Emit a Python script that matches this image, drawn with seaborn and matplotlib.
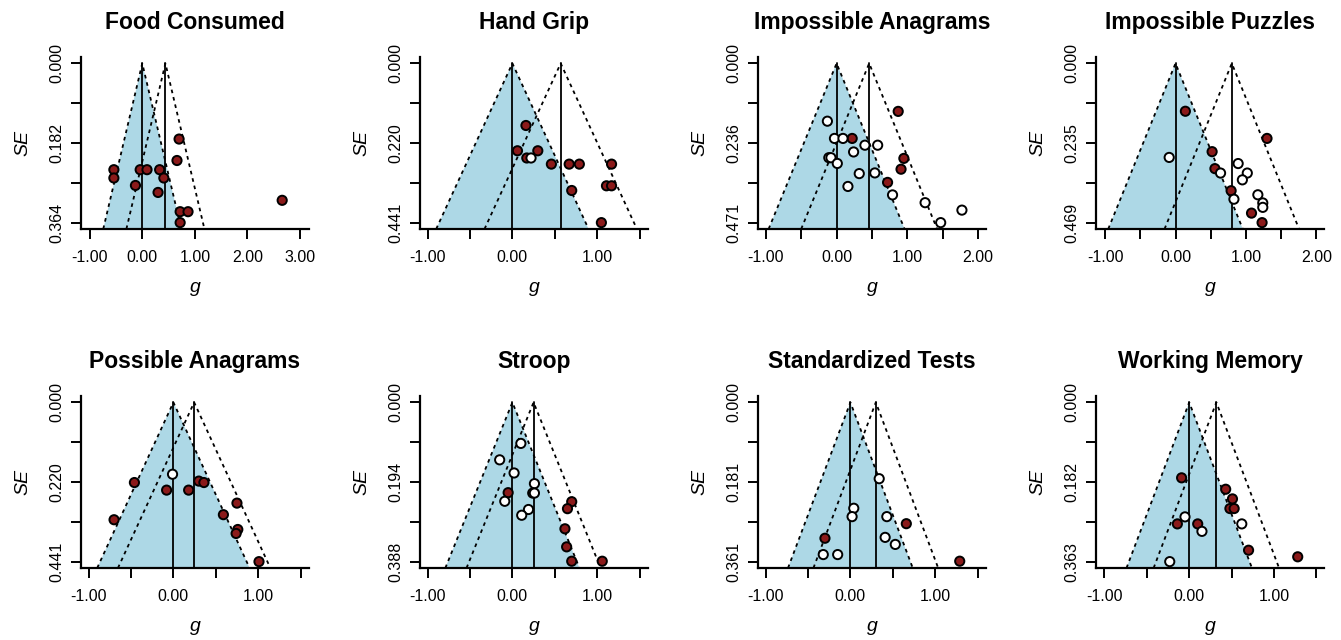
import numpy as np
import pandas as pd
import matplotlib
matplotlib.use("Agg")
import matplotlib.pyplot as plt
import seaborn as sns

# ---------------- data ----------------
titles = ["Food Consumed", "Hand Grip", "Impossible Anagrams", "Impossible Puzzles",
          "Possible Anagrams", "Stroop", "Standardized Tests", "Working Memory"]

food_obs_g = [0.70, 0.66, -0.54, -0.54, -0.04, 0.09, 0.33, 0.41, -0.13, 0.30, 2.66, 0.72, 0.87, 0.72]
food_obs_se = [0.173, 0.222, 0.243, 0.262, 0.243, 0.243, 0.243, 0.262, 0.279, 0.295, 0.313, 0.339, 0.339, 0.364]
food_fill_g = []
food_fill_se = []

grip_obs_g = [0.16, 0.06, 0.30, 0.17, 0.46, 0.67, 0.79, 1.17, 1.11, 1.17, 0.70, 1.05]
grip_obs_se = [0.172, 0.242, 0.242, 0.262, 0.279, 0.279, 0.279, 0.279, 0.339, 0.339, 0.352, 0.441]
grip_fill_g = [0.22]
grip_fill_se = [0.262]

ianag_obs_g = [0.87, 0.22, 0.95, 0.91, 0.72]
ianag_obs_se = [0.142, 0.222, 0.281, 0.313, 0.352]
ianag_fill_g = [-0.13, -0.03, 0.09, 0.40, 0.58, 0.24, -0.11, -0.08, 0.01, 0.32, 0.54, 0.16, 0.79, 1.25, 1.77, 1.47]
ianag_fill_se = [0.171, 0.222, 0.222, 0.242, 0.242, 0.262, 0.279, 0.279, 0.296, 0.326, 0.324, 0.364, 0.389, 0.412, 0.434, 0.471]

ipuzz_obs_g = [0.14, 1.30, 0.52, 0.56, 0.79, 1.08, 1.23]
ipuzz_obs_se = [0.141, 0.221, 0.260, 0.310, 0.375, 0.441, 0.469]
ipuzz_fill_g = [-0.09, 0.89, 0.64, 1.02, 0.95, 1.17, 0.83, 1.24, 1.24]
ipuzz_fill_se = [0.277, 0.295, 0.323, 0.323, 0.343, 0.387, 0.400, 0.411, 0.424]

panag_obs_g = [-0.46, -0.08, 0.18, 0.30, 0.36, 0.75, 0.59, -0.70, 0.76, 0.74, 1.01]
panag_obs_se = [0.222, 0.243, 0.243, 0.218, 0.222, 0.279, 0.311, 0.325, 0.352, 0.363, 0.441]
panag_fill_g = [-0.01]
panag_fill_se = [0.199]

stroop_obs_g = [-0.05, 0.70, 0.65, 0.62, 0.64, 0.70, 1.06]
stroop_obs_se = [0.220, 0.242, 0.259, 0.308, 0.352, 0.387, 0.387]
stroop_fill_g = [0.10, -0.15, 0.02, 0.26, 0.24, 0.26, -0.09, 0.19, 0.11]
stroop_fill_se = [0.100, 0.140, 0.172, 0.198, 0.221, 0.221, 0.241, 0.261, 0.275]

stest_obs_g = [0.66, -0.30, 1.29]
stest_obs_se = [0.275, 0.308, 0.360]
stest_fill_g = [0.34, 0.04, 0.02, 0.43, 0.41, 0.53, -0.32, -0.15]
stest_fill_se = [0.173, 0.240, 0.259, 0.259, 0.306, 0.322, 0.345, 0.345]

wmem_obs_g = [-0.09, 0.43, 0.51, 0.48, 0.53, -0.14, 0.10, 0.70, 1.28]
wmem_obs_se = [0.172, 0.198, 0.220, 0.242, 0.242, 0.277, 0.277, 0.337, 0.352]
wmem_fill_g = [-0.05, 0.62, 0.15, -0.23]
wmem_fill_se = [0.261, 0.277, 0.294, 0.363]

estimates = [0.44, 0.57, 0.46, 0.80, 0.245, 0.25, 0.30, 0.32]
se_max = [0.364, 0.441, 0.471, 0.469, 0.441, 0.388, 0.361, 0.363]
se_tick_labels = [["0.000", "0.182", "0.364"], ["0.000", "0.220", "0.441"],
                  ["0.000", "0.236", "0.471"], ["0.000", "0.235", "0.469"],
                  ["0.000", "0.220", "0.441"], ["0.000", "0.194", "0.388"],
                  ["0.000", "0.181", "0.361"], ["0.000", "0.182", "0.363"]]
x_tick_values = [[-1, 0, 1, 2, 3], [-1, 0, 1], [-1, 0, 1, 2], [-1, 0, 1, 2],
                 [-1, 0, 1], [-1, 0, 1], [-1, 0, 1], [-1, 0, 1]]
x_tick_labels = [["-1.00", "0.00", "1.00", "2.00", "3.00"], ["-1.00", "0.00", "1.00"],
                 ["-1.00", "0.00", "1.00", "2.00"], ["-1.00", "0.00", "1.00", "2.00"],
                 ["-1.00", "0.00", "1.00"], ["-1.00", "0.00", "1.00"],
                 ["-1.00", "0.00", "1.00"], ["-1.00", "0.00", "1.00"]]

obs_g = [food_obs_g, grip_obs_g, ianag_obs_g, ipuzz_obs_g, panag_obs_g, stroop_obs_g, stest_obs_g, wmem_obs_g]
obs_se = [food_obs_se, grip_obs_se, ianag_obs_se, ipuzz_obs_se, panag_obs_se, stroop_obs_se, stest_obs_se, wmem_obs_se]
fill_g = [food_fill_g, grip_fill_g, ianag_fill_g, ipuzz_fill_g, panag_fill_g, stroop_fill_g, stest_fill_g, wmem_fill_g]
fill_se = [food_fill_se, grip_fill_se, ianag_fill_se, ipuzz_fill_se, panag_fill_se, stroop_fill_se, stest_fill_se, wmem_fill_se]

# ---------------- layout / style ----------------
xlims = [(-1.165, 3.17), (-1.09, 1.60), (-1.11, 2.11), (-1.13, 2.11),
         (-1.09, 1.60), (-1.09, 1.60), (-1.09, 1.60), (-1.10, 1.59)]
minor_step = [None, 0.5, 0.5, 0.5, 0.5, 0.5, 0.5, 0.5]

sns.set_theme(style="ticks")
plt.rcParams["font.family"] = ["Liberation Sans", "DejaVu Sans"]
plt.rcParams["text.color"] = "black"
plt.rcParams["axes.labelcolor"] = "black"
plt.rcParams["xtick.color"] = "black"
plt.rcParams["ytick.color"] = "black"

W, H = 1341, 640
fig = plt.figure(figsize=(W / 100, H / 100), dpi=100)
fig.patch.set_facecolor("white")

lefts = [81, 420, 758, 1096]
bottoms = [229, 568]
aw, ah = 228, 172

RED = "#8B1A1A"
BLUE = "#ADD8E6"

for i in range(8):
    r, c = divmod(i, 4)
    ax = fig.add_axes([lefts[c] / W, 1 - bottoms[r] / H, aw / W, ah / H])
    ax.set_facecolor("white")
    smax = se_max[i]
    yb = smax * 1.04
    ytop = -smax * 0.04
    est = estimates[i]

    # funnel around 0 (shaded)
    ax.fill([0, -1.96 * yb, 1.96 * yb], [0, yb, yb], color=BLUE, lw=0, zorder=1)
    ax.plot([-1.96 * yb, 0, 1.96 * yb], [yb, 0, yb], color="black", lw=1.3,
            ls=(0, (2, 2.2)), zorder=2)
    # funnel around estimate
    ax.plot([est - 1.96 * yb, est, est + 1.96 * yb], [yb, 0, yb], color="black", lw=1.3,
            ls=(0, (2, 2.2)), zorder=2)
    # vertical lines
    ax.plot([0, 0], [0, yb], color="black", lw=1.3, zorder=3)
    ax.plot([est, est], [0, yb], color="black", lw=1.3, zorder=3)

    df = pd.DataFrame({
        "g": list(obs_g[i]) + list(fill_g[i]),
        "SE": list(obs_se[i]) + list(fill_se[i]),
        "type": ["observed"] * len(obs_g[i]) + ["filled"] * len(fill_g[i]),
    })
    sns.scatterplot(data=df, x="g", y="SE", hue="type",
                    palette={"observed": RED, "filled": "white"},
                    hue_order=["observed", "filled"],
                    s=44, edgecolor="black", linewidth=1.4, legend=False,
                    ax=ax, zorder=5, clip_on=False)

    ax.set_xlim(*xlims[i])
    ax.set_ylim(yb, ytop)

    # ticks
    yt = [0, smax / 4, smax / 2, 3 * smax / 4, smax]
    ax.set_yticks(yt)
    labs = se_tick_labels[i]
    ax.set_yticklabels([labs[0], "", labs[1], "", labs[2]], rotation=90, va="center")
    if minor_step[i]:
        xt = np.arange(-1.0, xlims[i][1] + 1e-9, 0.5)
    else:
        xt = np.arange(-1.0, xlims[i][1] + 1e-9, 1.0)
    ax.set_xticks(xt)
    lab_map = dict(zip(x_tick_values[i], x_tick_labels[i]))
    ax.set_xticklabels([lab_map.get(int(v), "") if float(v).is_integer() else "" for v in xt])

    ax.tick_params(axis="both", length=7, width=1.4, color="black", labelsize=11.5,
                   labelcolor="black")
    ax.tick_params(axis="x", pad=8)
    ax.tick_params(axis="y", pad=5)
    for side in ["top", "right"]:
        ax.spines[side].set_visible(False)
    for side in ["left", "bottom"]:
        ax.spines[side].set_linewidth(1.6)
        ax.spines[side].set_color("black")

    ax.set_xlabel("g", fontsize=14, style="italic", labelpad=10, color="black")
    ax.set_ylabel("SE", fontsize=14, style="italic", labelpad=13, color="black")
    ax.set_title(titles[i], fontsize=16.5, fontweight="bold", pad=20, color="black")

fig.savefig("out.png", dpi=100, facecolor="white")
